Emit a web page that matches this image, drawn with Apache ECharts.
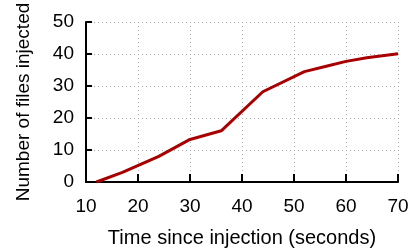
<!DOCTYPE html>
<html><head><meta charset="utf-8">
<script src="https://cdn.jsdelivr.net/npm/echarts@6/dist/echarts.min.js"></script>
<style>html,body{margin:0;padding:0;background:#fff}#c{width:419px;height:248px}</style>
</head><body><div id="c"></div>
<script>
var times = [12, 17, 24, 30, 36, 44, 52, 56, 60, 64, 70];
var files = [0, 3, 8, 13.3, 16, 28.2, 34.5, 36.1, 37.7, 38.8, 40.1];
var xTicks = [10, 20, 30, 40, 50, 60, 70];
var yTicks = [0, 10, 20, 30, 40, 50];
var xTitle = 'Time since injection (seconds)';
var yTitle = 'Number of files injected';

var chart = echarts.init(document.getElementById('c'), null, {renderer: 'canvas'});
var font = 'Liberation Sans';
chart.setOption({
  animation: false,
  grid: {left: 86, right: 21, top: 22, bottom: 66, containLabel: false, outerBoundsMode: 'none'},
  xAxis: {
    type: 'value', min: xTicks[0], max: xTicks[xTicks.length-1], interval: 10,
    name: xTitle, nameLocation: 'middle', nameGap: 46,
    nameTextStyle: {fontFamily: font, fontSize: 20, color: '#000'},
    axisLine: {show: true, onZero: false, lineStyle: {color: '#000', width: 2}},
    axisTick: {show: true, inside: true, length: 8, lineStyle: {color: '#000', width: 2}},
    axisLabel: {fontFamily: font, fontSize: 19, color: '#000', margin: 15},
    splitLine: {show: true, lineStyle: {color: '#aaa', type: [1, 3], width: 1}}
  },
  yAxis: {
    type: 'value', min: yTicks[0], max: yTicks[yTicks.length-1], interval: 10,
    name: yTitle, nameLocation: 'middle', nameGap: 53,
    nameTextStyle: {fontFamily: font, fontSize: 19, color: '#000'},
    axisLine: {show: true, lineStyle: {color: '#000', width: 2}},
    axisTick: {show: true, inside: true, length: 6, lineStyle: {color: '#000', width: 2}},
    axisLabel: {fontFamily: font, fontSize: 19, color: '#000', margin: 12, padding: [6, 0, 0, 0]},
    splitLine: {show: true, lineStyle: {color: '#aaa', type: [1, 3], width: 1}}
  },
  series: [{
    type: 'line', data: times.map(function(t, i){ return [t, files[i]]; }),
    showSymbol: false, symbol: 'none',
    lineStyle: {color: '#a80000', width: 3}
  }]
});
</script></body></html>
